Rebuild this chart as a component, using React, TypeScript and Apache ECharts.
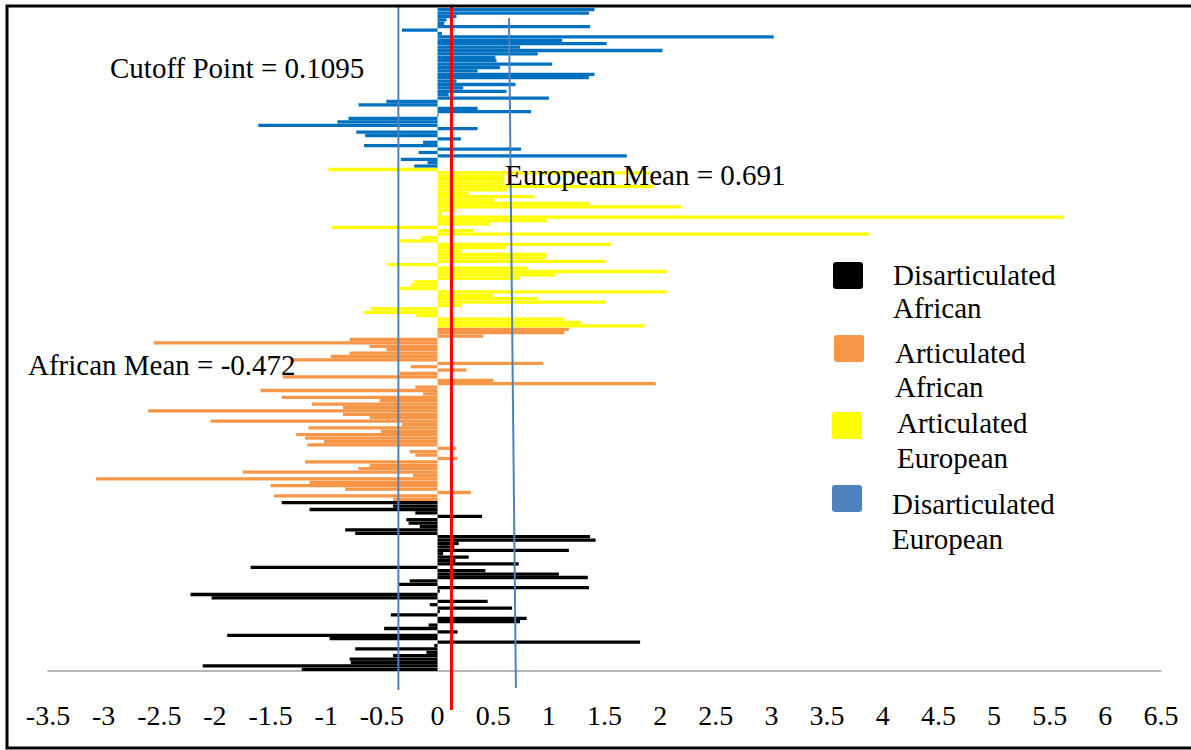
import React, { useEffect, useRef } from 'react';
import * as echarts from 'echarts';

// bar values, listed top to bottom as they appear in the chart
const disarticulatedEuropean = [
  1.41, 1.36, 0.17, 0.08, 0.06, 1.37, -0.32, 0.04, 3.02, 1.12,
  1.52, 0.74, 2.02, 0.9, 0.52, 0.53, 1.03, 0.56, 0.36, 1.41,
  1.36, 0.17, 0.7, 0.23, 0.62, 0.1, 1.0, -0.46, -0.71, 0.36,
  0.84, 0.01, -0.8, -0.9, -1.61, 0.36, -0.73, -0.65, 0.21, -0.13,
  -0.66, 0.75, -0.17, 1.7, -0.33, -0.09, -0.21,
];

const articulatedEuropean = [
  -0.98, 1.9, 0.6, 0.6, 0.6, 1.94, 0.62, 0.28, 0.87, 0.51,
  1.37, 2.19, 0.16, 0.04, 5.63, 0.98, 0.47, -0.95, 0.32, 3.88,
  -0.15, -0.34, 1.56, 0.61, 0.22, 0.98, 0.97, 1.51, -0.45, 0.81,
  2.06, 1.06, 0.74, -0.21, -0.24, -0.34, 2.06, 0.5, 0.9, 1.51,
  0.22, -0.6, -0.66, -0.19, 1.14, 1.29, 1.86,
];

const articulatedAfrican = [
  1.18, 1.14, 0.41, -0.79, -2.55, -0.61, -0.46, -0.79, -0.96, -1.3,
  0.95, -0.24, 0.26, -0.34, -1.39, 0.5, 1.96, -0.2, -1.59, -0.13,
  -1.4, -0.52, -1.13, -0.85, -2.6, -0.85, -0.61, -2.04, -0.32, -1.16,
  -0.51, -1.27, -1.19, -1.02, -1.17, 0.17, -0.25, -0.2, 0.18, -1.19,
  -0.61, -0.71, -1.75, -0.22, -3.07, -1.15, -1.5, -0.83, 0.3, -1.47,
  -0.4,
];

const disarticulatedAfrican = [
  -1.4, -0.4, -1.15, -0.2, 0.4, -0.28, -0.26, -0.16, -0.83, -0.74,
  1.37, 1.42, 0.19, 0.15, 1.18, 0.05, 0.28, 0.16, 0.73, -1.68,
  0.43, 1.09, 1.35, -0.25, -0.35, 1.36, 0.02, -2.22, -2.03, 0.45,
  -0.07, 0.67, 0.02, -0.42, 0.8, 0.74, -0.08, -0.48, 0.18, -1.89,
  -0.97, 1.82, -0.03, -0.74, -0.1, -0.4, -0.79, -0.78, -2.11, -1.22,
];

// reference lines as drawn in the picture
const cutoffLine = 0.125;
const africanMeanLine = -0.352;
const europeanMeanLineTop = 0.642;
const europeanMeanLineBottom = 0.704;

const FONT = '"Liberation Serif", "Times New Roman", serif';

const App: React.FC = () => {
  const chartRef = useRef<HTMLDivElement>(null);

  useEffect(() => {
    if (!chartRef.current) return;
    const chart = echarts.init(chartRef.current, undefined, { renderer: 'svg' });

    const groups = [
      { name: 'Disarticulated European', color: '#0070c0', values: disarticulatedEuropean },
      { name: 'Articulated European', color: '#ffff00', values: articulatedEuropean },
      { name: 'Articulated African', color: '#f79646', values: articulatedAfrican },
      { name: 'Disarticulated African', color: '#000000', values: disarticulatedAfrican },
    ];
    const total = groups.reduce((s, g) => s + g.values.length, 0);
    const categories = Array.from({ length: total }, (_, i) => String(i + 1));

    let offset = 0;
    const series = groups.map(g => {
      const data: (number | string)[] = new Array(total).fill('-');
      g.values.forEach((v, i) => {
        data[offset + i] = v;
      });
      offset += g.values.length;
      return {
        name: g.name,
        type: 'bar',
        stack: 'all',
        data,
        barCategoryGap: '4%',
        itemStyle: { color: g.color },
        silent: true,
      };
    });

    chart.setOption({
      animation: false,
      grid: { left: 48, right: 30, top: 8, bottom: 79 },
      xAxis: {
        type: 'value',
        min: -3.5,
        max: 6.5,
        interval: 0.5,
        axisLine: { show: true, onZero: false, lineStyle: { color: '#a0a0a0', width: 1.5 } },
        axisTick: { show: false },
        splitLine: { show: false },
        axisLabel: {
          color: '#000',
          fontFamily: FONT,
          fontSize: 28,
          margin: 30,
          showMinLabel: true,
          showMaxLabel: true,
        },
      },
      yAxis: {
        type: 'category',
        data: categories,
        inverse: true,
        axisLine: { show: false },
        axisTick: { show: false },
        axisLabel: { show: false },
        splitLine: { show: false },
      },
      series,
    });

    const px = (v: number) => chart.convertToPixel({ xAxisIndex: 0 }, v) as number;

    const text = (s: string, x: number, y: number, lineHeight = 33) => ({
      type: 'text',
      x,
      y,
      z: 20,
      style: {
        text: s,
        fill: '#000',
        font: `29px ${FONT}`,
        fontFamily: FONT,
        fontSize: 29,
        lineHeight,
        verticalAlign: 'middle',
        align: 'left',
      },
    });

    const swatch = (x: number, y: number, color: string) => ({
      type: 'rect',
      shape: { x, y, width: 30, height: 27, r: 3 },
      style: { fill: color },
      z: 20,
    });

    chart.setOption({
      graphic: [
        // frame
        {
          type: 'rect',
          shape: { x: 7, y: 6, width: 1200, height: 742 },
          style: { fill: 'none', stroke: '#000', lineWidth: 3 },
          z: 30,
        },
        {
          type: 'line',
          shape: { x1: px(africanMeanLine), y1: 7, x2: px(africanMeanLine), y2: 690 },
          style: { stroke: '#4f81bd', lineWidth: 2 },
          z: 10,
        },
        {
          type: 'line',
          shape: { x1: px(europeanMeanLineTop), y1: 18, x2: px(europeanMeanLineBottom), y2: 688 },
          style: { stroke: '#4f81bd', lineWidth: 2 },
          z: 10,
        },
        {
          type: 'line',
          shape: { x1: px(cutoffLine), y1: 6, x2: px(cutoffLine), y2: 710 },
          style: { stroke: '#ff0000', lineWidth: 3 },
          z: 11,
        },
        text('Cutoff Point = 0.1095', 110, 68),
        text('European Mean = 0.691', 505, 175),
        text('African Mean = -0.472', 28, 365),
        swatch(833, 262, '#000000'),
        text('Disarticulated\nAfrican', 893, 291, 33),
        swatch(834, 335, '#f79646'),
        text('Articulated\nAfrican', 895, 370, 34),
        swatch(832, 412, '#ffff00'),
        text('Articulated\nEuropean', 897, 440.5, 35),
        swatch(832, 485, '#4f81bd'),
        text('Disarticulated\nEuropean', 892, 521.5, 35),
      ],
    });

    return () => {
      chart.dispose();
    };
  }, []);

  return (
    <div
      ref={chartRef}
      style={{ position: 'absolute', left: 0, top: 0, width: 1191, height: 750, background: '#fff' }}
    />
  );
};

export default App;
